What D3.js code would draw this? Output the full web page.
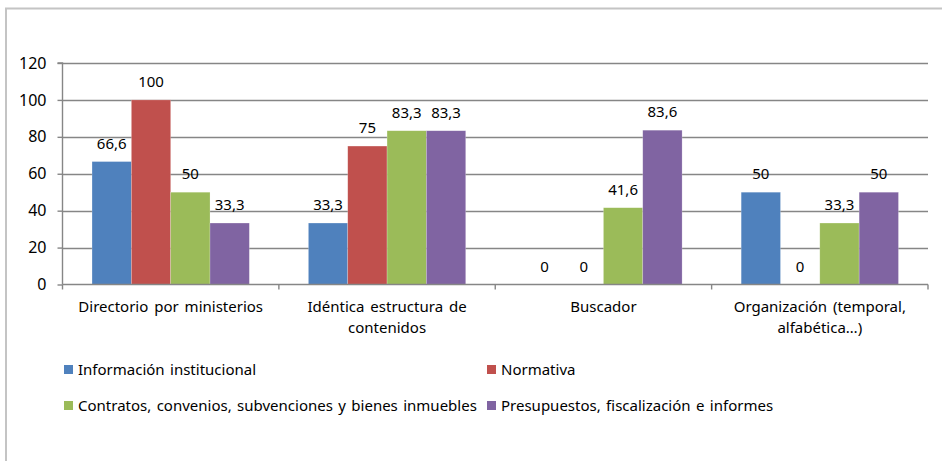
<!DOCTYPE html>
<html><head><meta charset="utf-8">
<script src="https://cdn.jsdelivr.net/npm/d3@7"></script>
<style>
body{margin:0;background:#fff;}
svg{display:block;}
text{font-family:"Noto Sans",sans-serif;fill:#000;}
</style></head><body>
<svg id="chart" width="942" height="461"></svg>
<script>
const categories = [["Directorio por ministerios"], ["Idéntica estructura de","contenidos"], ["Buscador"], ["Organización (temporal,","alfabética…)"]];
const seriesNames = ["Información institucional", "Normativa", "Contratos, convenios, subvenciones y bienes inmuebles", "Presupuestos, fiscalización e informes"];
const infoInst = [66.6, 33.3, 0, 50];
const normativa = [100, 75, 0, 0];
const contratos = [50, 83.3, 41.6, 33.3];
const presupuestos = [33.3, 83.3, 83.6, 50];
const valueLabels = [["66,6","33,3","0","50"],["100","75","0","0"],["50","83,3","41,6","33,3"],["33,3","83,3","83,6","50"]];
const yTicks = [0,20,40,60,80,100,120];
const colors = ["#4F81BD","#C0504D","#9BBB59","#8064A2"];

const series = [infoInst, normativa, contratos, presupuestos];
const svg = d3.select("#chart");
const grid = "#868686";

// outer frame
svg.append("line").attr("x1",5).attr("x2",942).attr("y1",8.5).attr("y2",8.5).attr("stroke","#c4c4c4").attr("stroke-width",2);
svg.append("line").attr("x1",6).attr("x2",6).attr("y1",8).attr("y2",461).attr("stroke","#c4c4c4").attr("stroke-width",2);

const L = 62.5, R = 928, T = 63, B = 284.5;
const x0 = d3.scaleBand().domain(d3.range(categories.length)).range([L,R]).padding(0);
const y = d3.scaleLinear().domain([0,120]).range([B,T]);
const groupW = x0.bandwidth()*0.727;
const x1 = d3.scaleBand().domain(d3.range(series.length)).range([0,groupW]).padding(0);

// gridlines
svg.append("g").selectAll("line").data(yTicks.filter(d=>d>0)).join("line")
  .attr("x1",L).attr("x2",R).attr("y1",d=>Math.round(y(d))+0.5).attr("y2",d=>Math.round(y(d))+0.5)
  .attr("stroke",grid).attr("stroke-width",1.4);

// y axis
const yAxis = d3.axisLeft(y).tickValues(yTicks).tickSize(5).tickPadding(11).tickFormat(d3.format("d"));
const ya = svg.append("g").attr("transform",`translate(${L},0)`).call(yAxis);
ya.select(".domain").attr("stroke",grid).attr("stroke-width",1.4).attr("d",`M-5,${T}H0V${B}`);
ya.selectAll(".tick line").attr("stroke",grid).attr("stroke-width",1.4);
ya.selectAll(".tick text").style("font-family","Noto Sans").style("font-size","16px").attr("fill","#000");

// bars
const groups = svg.append("g").selectAll("g").data(categories).join("g")
  .attr("transform",(d,i)=>`translate(${x0(i)+(x0.bandwidth()-groupW)/2},0)`);
groups.each(function(c,ci){
  const g = d3.select(this);
  series.forEach((s,si)=>{
    const v = s[ci];
    if(v>0){
      g.append("rect").attr("x",x1(si)).attr("width",x1.bandwidth()).attr("y",y(v)).attr("height",y(0)-y(v))
       .attr("fill",colors[si]).attr("stroke","rgba(255,255,255,0.35)").attr("stroke-width",0.6);
    }
    g.append("text").attr("x",x1(si)+x1.bandwidth()/2).attr("y",y(v)-13)
     .attr("text-anchor","middle").style("font-size","15px").text(valueLabels[si][ci]);
  });
});

// x axis
svg.append("line").attr("x1",L).attr("x2",R).attr("y1",B).attr("y2",B).attr("stroke",grid).attr("stroke-width",1.4);
const bounds = d3.range(categories.length+1).map(i=> i<categories.length ? x0(i) : R);
svg.append("g").selectAll("line").data(bounds).join("line")
  .attr("x1",d=>d).attr("x2",d=>d).attr("y1",B).attr("y2",B+5).attr("stroke",grid).attr("stroke-width",1.4);

// category labels
svg.append("g").selectAll("text").data(categories).join("text")
  .attr("x",(d,i)=>x0(i)+x0.bandwidth()/2).attr("y",312).attr("text-anchor","middle")
  .style("font-size","15px").style("word-spacing","2px")
  .each(function(lines){
    const t = d3.select(this);
    lines.forEach((ln,li)=>t.append("tspan").attr("x",t.attr("x")).attr("dy",li===0?0:21).text(ln));
  });

// legend
const legPos = [[64,369],[487,369],[64,405],[487,405]];
const leg = svg.append("g").selectAll("g").data(seriesNames).join("g")
  .attr("transform",(d,i)=>`translate(${legPos[i][0]},${legPos[i][1]})`);
leg.append("rect").attr("x",0).attr("y",-4).attr("width",9).attr("height",9).attr("fill",(d,i)=>colors[i]);
leg.append("text").attr("x",14).attr("y",6).style("font-size","15px").style("word-spacing","1.5px").text(d=>d);
</script>
</body></html>
